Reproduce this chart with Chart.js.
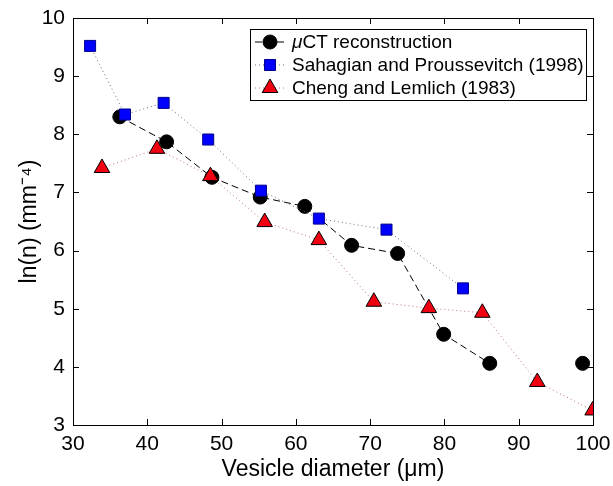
<!DOCTYPE html>
<html>
<head>
<meta charset="utf-8">
<script src="https://cdn.jsdelivr.net/npm/chart.js@4.4.0/dist/chart.umd.min.js"></script>
<style>
  html, body { margin: 0; padding: 0; background: #fff; }
  #wrap { width: 613px; height: 486px; }
</style>
</head>
<body>
<div id="wrap"><canvas id="myChart" width="613" height="486"></canvas></div>
<script>
// data
var ctX = [36.3, 42.6, 48.7, 55.2, 61.2, 67.5, 73.7, 79.9, 86.1, 98.6];
var ctY = [8.30, 7.87, 7.26, 6.92, 6.76, 6.09, 5.95, 4.56, 4.06, 4.06];

var sahX = [32.3, 37.0, 42.2, 48.2, 55.3, 63.1, 72.2, 82.5];
var sahY = [9.52, 8.34, 8.54, 7.91, 7.03, 6.55, 6.36, 5.35];

var chengX = [33.9, 41.3, 48.5, 55.8, 63.1, 70.5, 77.9, 85.1, 92.5, 99.95];
var chengY = [7.42, 7.75, 7.28, 6.49, 6.18, 5.12, 5.01, 4.93, 3.74, 3.25];

var xTicks = [30, 40, 50, 60, 70, 80, 90, 100];
var yTicks = [3, 4, 5, 6, 7, 8, 9, 10];

var labels = ['\u03BCCT reconstruction', 'Sahagian and Proussevitch (1998)', 'Cheng and Lemlich (1983)'];

function pts(xs, ys) {
    return xs.map(function (x, i) { return { x: x, y: ys[i] }; });
}

var FONT = '"Liberation Sans", Arial, sans-serif';

// inward ticks, full box and legend inside the plot (MATLAB look)
var boxPlugin = {
    id: 'box',
    afterDatasetsDraw: function (chart) {
        var c = chart.ctx, a = chart.chartArea;
        var xs = chart.scales.x, ys = chart.scales.y;
        c.save();
        c.strokeStyle = '#000';
        c.lineWidth = 1;
        c.beginPath();
        xTicks.forEach(function (v) {
            var px = Math.round(xs.getPixelForValue(v)) + 0.5;
            c.moveTo(px, a.bottom); c.lineTo(px, a.bottom - 6);
            c.moveTo(px, a.top); c.lineTo(px, a.top + 6);
        });
        yTicks.forEach(function (v) {
            var py = Math.round(ys.getPixelForValue(v)) + 0.5;
            c.moveTo(a.left, py); c.lineTo(a.left + 6, py);
            c.moveTo(a.right, py); c.lineTo(a.right - 6, py);
        });
        c.stroke();
        c.strokeRect(Math.round(a.left) + 0.5, Math.round(a.top) + 0.5,
                     Math.round(a.right - a.left), Math.round(a.bottom - a.top));

        // legend, rows in label order
        var lx = 250, ly = 29, lw = 336, lh = 71;
        c.fillStyle = '#fff';
        c.fillRect(lx, ly, lw, lh);
        c.strokeRect(lx + 0.5, ly + 0.5, lw, lh);
        var rows = [42, 65, 88];
        c.textBaseline = 'middle';
        rows.forEach(function (ry, i) {
            var ds = chart.data.datasets.filter(function (d) { return d.label === labels[i]; })[0];
            c.beginPath();
            c.setLineDash(ds.borderDash);
            c.strokeStyle = ds.borderColor;
            c.lineWidth = ds.borderWidth;
            c.moveTo(255, ry); c.lineTo(286, ry);
            c.stroke();
            c.setLineDash([]);
            c.fillStyle = ds.pointBackgroundColor;
            c.strokeStyle = ds.pointBorderColor;
            c.lineWidth = 1;
            Chart.helpers.drawPoint(c, {
                pointStyle: ds.pointStyle, radius: ds.pointRadius, borderWidth: 1
            }, 270, ry);
            c.fillStyle = '#000';
            var txt = labels[i], tx = 292;
            if (txt.charAt(0) === '\u03BC') {
                c.font = 'italic 19px ' + FONT;
                c.fillText('\u03BC', tx, ry + 1);
                tx += c.measureText('\u03BC').width;
                txt = txt.slice(1);
            }
            c.font = '19px ' + FONT;
            c.fillText(txt, tx, ry + 1);
        });
        c.restore();
    }
};

var ctx = document.getElementById('myChart').getContext('2d');
var lastCt = ctX.length - 1;
var myChart = new Chart(ctx, {
    type: 'scatter',
    data: {
        datasets: [{
            label: labels[2],
            data: pts(chengX, chengY),
            showLine: true,
            order: 1,
            borderColor: '#c07070',
            borderWidth: 1,
            borderDash: [1, 3],
            pointStyle: 'triangle',
            pointRadius: 9,
            pointHoverRadius: 9,
            pointBackgroundColor: '#f00010',
            pointBorderColor: '#000',
            pointBorderWidth: 1
        }, {
            label: labels[1],
            data: pts(sahX, sahY),
            showLine: true,
            order: 2,
            borderColor: '#6a6a8a',
            borderWidth: 1,
            borderDash: [1, 3],
            pointStyle: 'rect',
            pointRadius: 7.8,
            pointHoverRadius: 7.8,
            pointBackgroundColor: '#0000ff',
            pointBorderColor: '#00008a',
            pointBorderWidth: 1
        }, {
            label: labels[0],
            data: pts(ctX, ctY),
            showLine: true,
            order: 3,
            borderColor: '#000',
            borderWidth: 1,
            borderDash: [7, 4],
            segment: {
                // last point stands alone in the figure
                borderColor: function (s) { return s.p1DataIndex === lastCt ? 'rgba(0,0,0,0)' : '#000'; }
            },
            pointStyle: 'circle',
            pointRadius: 7,
            pointHoverRadius: 7,
            pointBackgroundColor: '#000',
            pointBorderColor: '#000',
            pointBorderWidth: 1
        }]
    },
    options: {
        responsive: false,
        animation: false,
        layout: { padding: { top: 18, right: 20, left: 0, bottom: 0 } },
        plugins: {
            legend: { display: false },
            tooltip: { enabled: false }
        },
        scales: {
            x: {
                type: 'linear',
                min: 30,
                max: 100,
                afterFit: function (s) { s.height = 61; s.paddingLeft = 0; s.paddingRight = 0; },
                afterBuildTicks: function (s) { s.ticks = xTicks.map(function (v) { return { value: v }; }); },
                grid: { display: false, drawTicks: false },
                border: { display: true, color: '#000', width: 1 },
                ticks: { color: '#000', font: { family: FONT, size: 21 }, padding: 7, maxRotation: 0 },
                title: {
                    display: true,
                    text: 'Vesicle diameter (\u03BCm)',
                    color: '#000',
                    font: { family: FONT, size: 23 },
                    padding: { top: 0, bottom: 3 }
                }
            },
            y: {
                type: 'linear',
                min: 3,
                max: 10,
                afterFit: function (s) { s.width = 73; s.paddingTop = 0; s.paddingBottom = 0; },
                afterBuildTicks: function (s) { s.ticks = yTicks.map(function (v) { return { value: v }; }); },
                grid: { display: false, drawTicks: false },
                border: { display: true, color: '#000', width: 1 },
                ticks: { color: '#000', font: { family: FONT, size: 21 }, padding: 8 },
                title: {
                    display: true,
                    text: 'ln(n) (mm\u207B\u2074)',
                    color: '#000',
                    font: { family: FONT, size: 23 },
                    padding: { top: 16, bottom: 0 }
                }
            }
        }
    },
    plugins: [boxPlugin]
});
</script>
</body>
</html>
